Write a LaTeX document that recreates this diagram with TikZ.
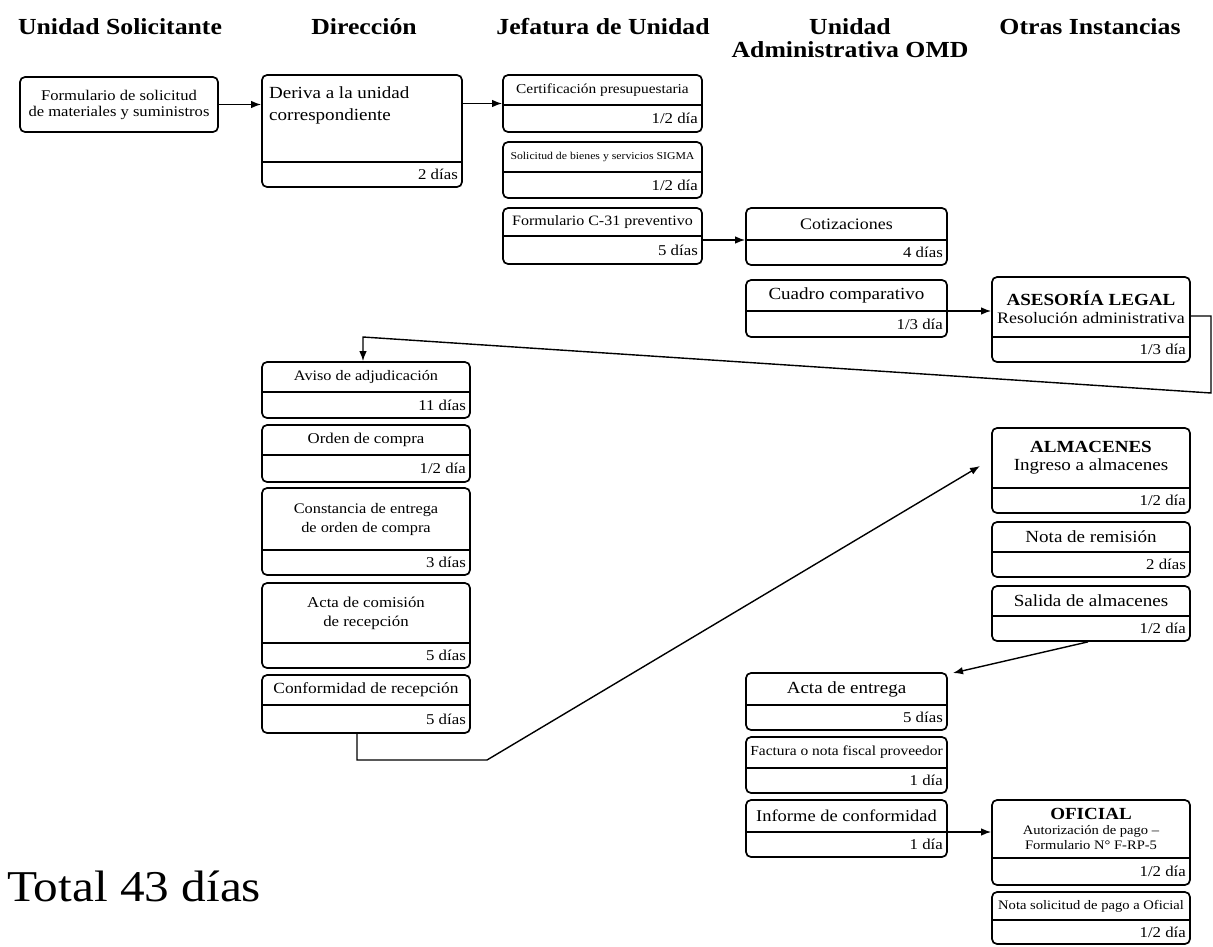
\documentclass[tikz,border=0pt]{standalone}
\usepackage{fontspec}
\setmainfont{Liberation Serif}[FakeStretch=1.12]
\usetikzlibrary{arrows.meta,calc}
\newcommand\fs[2]{\fontsize{#1}{#2}\selectfont}
\tikzset{
  pbox/.style={draw=black, line width=1.7pt, rounded corners=5pt, inner sep=0pt},
  divline/.style={draw=black, line width=1.9pt},
  toptext/.style={inner sep=0pt, align=center},
  daytext/.style={inner sep=0pt, anchor=east, font={\fs{15}{17}}},
  hdr/.style={inner sep=0pt, font={\bfseries\fs{23}{23}}},
  conn/.style={draw=black, line width=1.4pt},
  arr/.style={conn, -{Latex[length=10pt,width=7.5pt]}},
}
% name x1 y1 x2 y2 ydiv font text days
\newcommand\pbox[9]{%
  \node[pbox, minimum width={(#4-#2)*1pt}, minimum height={(#5-#3)*1pt}] (#1) at ({(#2+#4)/2},{(#3+#5)/2}) {};
  \coordinate (#1d) at (0,#6);
  \draw[divline] (#1.west |- #1d) -- (#1.east |- #1d);
  \node[toptext, font={#7}] (#1t) at ({(#2+#4)/2},{(#3+#6)/2}) {#8};
  \node[daytext] (#1x) at ({#4-4},{(#6+#5)/2}) {#9};
}
\begin{document}
\begin{tikzpicture}[x=1pt,y=-1pt]
\fill[white] (0,0) rectangle (1213,946);
\useasboundingbox (0,0) rectangle (1213,946);

% headers
\node[hdr] (h1) at (120,27) {Unidad Solicitante};
\node[hdr] (h2) at (364,27) {Dirección};
\node[hdr] (h3) at (603,27) {Jefatura de Unidad};
\node[hdr, align=center] (h4) at (850,38.5) {Unidad\\Administrativa OMD};
\node[hdr] (h5) at (1090,27) {Otras Instancias};

% box A
\node[pbox, minimum width=198pt, minimum height=55pt] (a) at (119,104.5) {};
\node[toptext, font={\fs{14.8}{16}}] (ta) at (a.center) {Formulario de solicitud\\de materiales y suministros};

% box B
\node[pbox, minimum width=200pt, minimum height=112pt] (b) at (362,131) {};
\coordinate (bd) at (0,162);
\draw[divline] (b.west |- bd) -- (b.east |- bd);
\node[inner sep=0pt, anchor=north west, align=left, font={\fs{17}{22}}] (bt) at (269,86) {Deriva a la unidad\\correspondiente};
\node[daytext] (bx) at (458,174.5) {2 días};

% column 3
\pbox{c1}{503}{75}{702}{132}{105}{\fs{13.7}{15}}{Certificación presupuestaria}{1/2 día}
\pbox{c2}{503}{142}{702}{198}{172}{\fs{10.5}{12}}{Solicitud de bienes y servicios SIGMA}{1/2 día}
\pbox{c3}{503}{208}{702}{264}{236}{\fs{14.3}{16}}{Formulario C-31 preventivo}{5 días}

% column 4
\pbox{d1}{746}{208}{947}{265}{240}{\fs{16}{18}}{Cotizaciones}{4 días}
\pbox{d2}{746}{280}{947}{337}{311}{\fs{17}{19}}{Cuadro comparativo}{1/3 día}

% asesoria
\pbox{e1}{992}{277}{1190}{362}{337}{\fs{16}{18}}{{\bfseries\fs{17}{18}ASESORÍA LEGAL}\\Resolución administrativa}{1/3 día}

% column 2 lower
\pbox{f1}{262}{362}{470}{418}{392}{\fs{14.5}{16}}{Aviso de adjudicación}{11 días}
\pbox{f2}{262}{425}{470}{482}{455}{\fs{15}{17}}{Orden de compra}{1/2 día}
\pbox{f3}{262}{488}{470}{575}{550}{\fs{14.6}{19}}{Constancia de entrega\\de orden de compra}{3 días}
\pbox{f4}{262}{583}{470}{668}{643}{\fs{15}{19}}{Acta de comisión\\de recepción}{5 días}
\pbox{f5}{262}{675}{470}{733}{705}{\fs{15.5}{17}}{Conformidad de recepción}{5 días}

% almacenes
\pbox{g1}{992}{428}{1190}{513}{488}{\fs{17}{18}}{{\bfseries ALMACENES}\\Ingreso a almacenes}{1/2 día}
\pbox{g2}{992}{522}{1190}{577}{552}{\fs{17}{19}}{Nota de remisión}{2 días}
\pbox{g3}{992}{586}{1190}{641}{616}{\fs{17}{19}}{Salida de almacenes}{1/2 día}

% column 4 lower
\pbox{h1}{746}{673}{947}{730}{705}{\fs{17}{19}}{Acta de entrega}{5 días}
\pbox{h2}{746}{737}{947}{793}{768}{\fs{13.8}{15}}{Factura o nota fiscal proveedor}{1 día}
\pbox{h3}{746}{800}{947}{857}{832}{\fs{16.5}{18}}{Informe de conformidad}{1 día}

% oficial
\pbox{i1}{992}{800}{1190}{885}{858}{\fs{13}{15}}{{\bfseries\fs{17}{17}OFICIAL}\\Autorización de pago –\\Formulario N° F-RP-5}{1/2 día}
\pbox{i2}{992}{892}{1190}{944}{920}{\fs{13}{15}}{Nota solicitud de pago a Oficial}{1/2 día}

% total
\node[inner sep=0pt, anchor=base west, font={\fs{44}{48}}] (tot) at (7,901) {Total 43 días};

% connectors
\draw[arr] (a.east) -- (b.west |- a.east);
\draw[arr] (b.east |- c1.west) -- (c1.west);
\draw[arr] (c3.east |- d1d) -- (d1.west |- d1d);
\draw[arr] (d2.east |- d2d) -- (e1.west |- d2d);

\coordinate (r1) at (1211,316);
\coordinate (r2) at (1211,393);
\coordinate (r3) at (363,337);
\draw[arr] (e1.east |- r1) -- (r1) -- (r2) -- (r3) -- (r3 |- f1.north);

\coordinate (s1) at (357,760);
\coordinate (s2) at (487,760);
\coordinate (g1in) at (980,466);
\draw[arr] (f5.south -| s1) -- (s1) -- (s2) -- (g1in);

\coordinate (g3out) at (1088,641);
\coordinate (h1in) at (953,673);
\draw[arr] (g3.south -| g3out) -- (h1in);

\draw[arr] (h3.east |- h3d) -- (i1.west |- h3d);
\end{tikzpicture}
\end{document}
